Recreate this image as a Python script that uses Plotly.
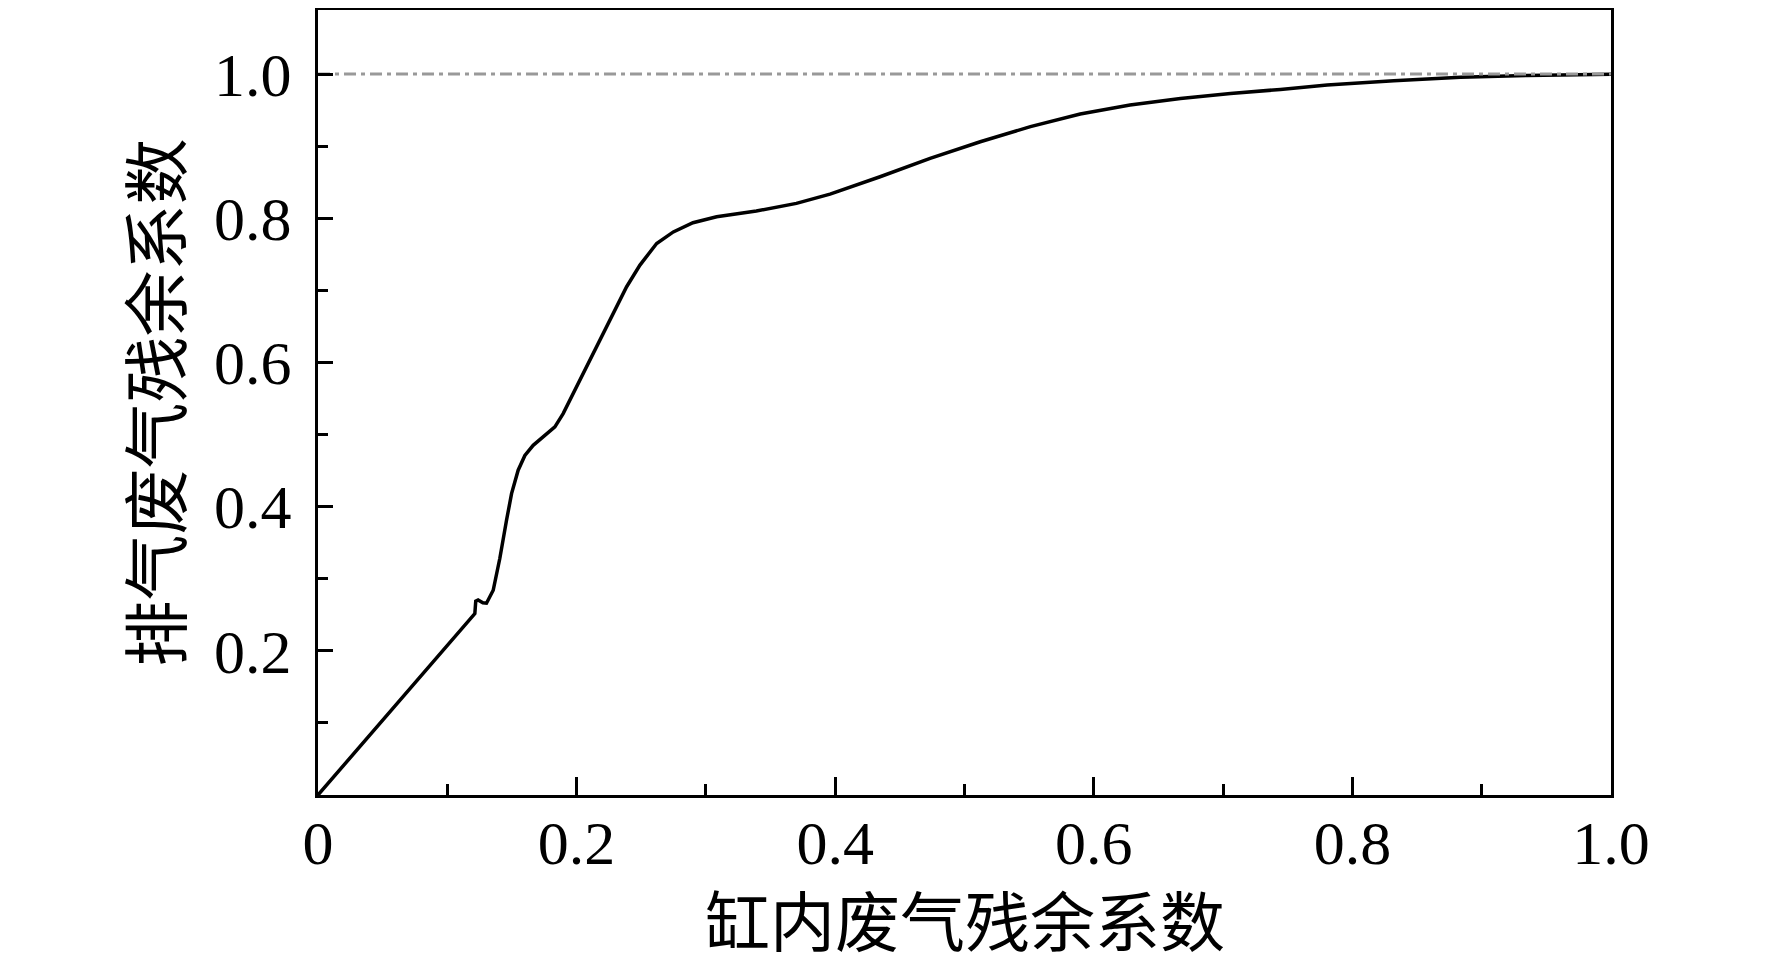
import plotly.graph_objects as go

# cylinder residual gas fraction vs exhaust residual gas fraction
x_cyl = [0.0, 0.1032, 0.1213, 0.1220, 0.1238, 0.1275, 0.1303, 0.1355, 0.1406,
         0.1458, 0.1497, 0.1548, 0.1600, 0.1664, 0.1742, 0.1832, 0.1896, 0.1974,
         0.2077, 0.2180, 0.2283, 0.2387, 0.2490, 0.2619, 0.2748, 0.2900, 0.3083,
         0.3390, 0.3700, 0.3960, 0.4347, 0.4734, 0.5122, 0.5510, 0.5895, 0.6280,
         0.6670, 0.7057, 0.7443, 0.7805, 0.8320, 0.8837, 0.9350, 1.0]
y_exh = [0.0, 0.2150, 0.2517, 0.2690, 0.2705, 0.2665, 0.2660, 0.2840, 0.3280,
         0.3810, 0.4180, 0.4505, 0.4710, 0.4850, 0.4968, 0.5106, 0.5290, 0.5570,
         0.5940, 0.6310, 0.6700, 0.7050, 0.7350, 0.7650, 0.7810, 0.7937, 0.8020,
         0.8100, 0.8206, 0.8335, 0.8575, 0.8830, 0.9060, 0.9270, 0.9445, 0.9570,
         0.9660, 0.9730, 0.9786, 0.9847, 0.9907, 0.9954, 0.9980, 0.9996]

ref_x = [0.0, 1.0]
ref_y = [1.0, 1.0]

x_ticks = [0, 0.2, 0.4, 0.6, 0.8, 1.0]
x_labels = ['0', '0.2', '0.4', '0.6', '0.8', '1.0']
y_ticks = [0.2, 0.4, 0.6, 0.8, 1.0]
y_labels = ['0.2', '0.4', '0.6', '0.8', '1.0']

serif = 'Liberation Serif, Times New Roman, serif'
cjk = 'Noto Sans CJK SC, sans-serif'

fig = go.Figure()

fig.add_trace(go.Scatter(
    x=x_cyl, y=y_exh, mode='lines',
    line=dict(color='black', width=3.5),
    showlegend=False
))

# reference line at 1.0 (drawn on top of the curve)
fig.add_trace(go.Scatter(
    x=ref_x, y=ref_y, mode='lines',
    line=dict(color='#999999', width=2.8, dash='12px,5px,4px,5px'),
    showlegend=False
))

axis_common = dict(
    showline=True, linecolor='black', linewidth=3, mirror=True,
    showgrid=False, zeroline=False, automargin=False,
    ticks='inside', tickcolor='black', tickwidth=3,
    tickfont=dict(family=serif, size=62, color='black'),
)

fig.update_xaxes(
    range=[0, 1.0], tickvals=x_ticks, ticktext=x_labels, ticklen=18,
    ticklabelstandoff=-8,
    minor=dict(dtick=0.1, tick0=0.1, ticks='inside', ticklen=11,
               tickwidth=3, tickcolor='black', showgrid=False),
    **axis_common
)
fig.update_yaxes(
    range=[0, 1.0888], tickvals=y_ticks, ticktext=y_labels, ticklen=15,
    ticklabelstandoff=11,
    minor=dict(dtick=0.1, tick0=0.1, ticks='inside', ticklen=10,
               tickwidth=3, tickcolor='black', showgrid=False),
    **axis_common
)

fig.add_annotation(
    text='缸内废气残余系数', xref='paper', yref='paper',
    x=0.5, y=-0.157, xanchor='center', yanchor='middle',
    showarrow=False, font=dict(family=cjk, size=65, color='black')
)
fig.add_annotation(
    text='排气废气残余系数', xref='paper', yref='paper',
    x=-0.1284, y=0.5, xanchor='center', yanchor='middle', textangle=-90,
    showarrow=False, font=dict(family=cjk, size=66, color='black')
)

# page body adds an 8px offset, so the figure is 8px smaller on each side
fig.update_layout(
    width=1764, height=960,
    margin=dict(l=310, r=161, t=2, b=173),
    plot_bgcolor='white', paper_bgcolor='white',
)

fig.write_html('out.html')
